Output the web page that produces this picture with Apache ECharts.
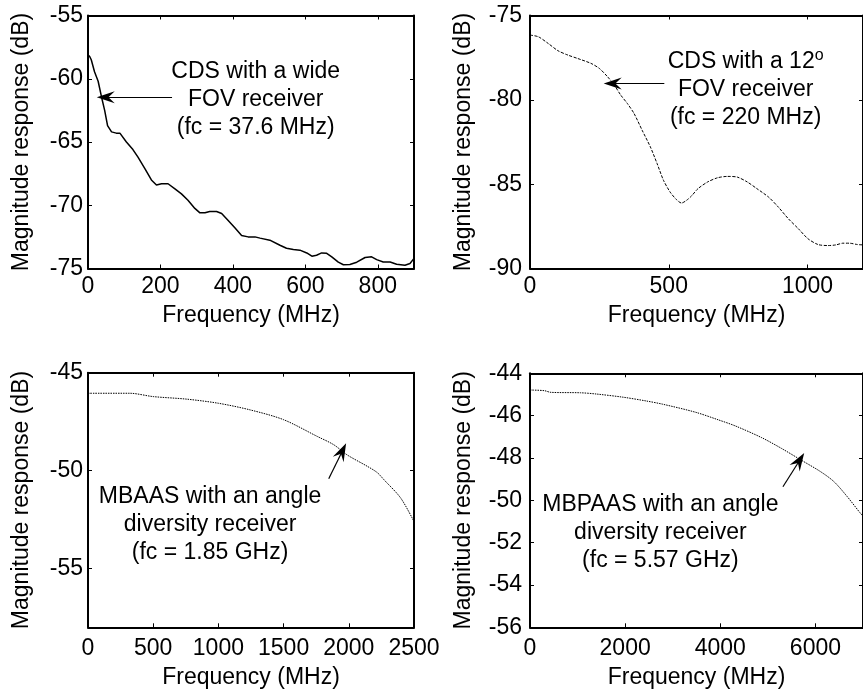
<!DOCTYPE html>
<html>
<head>
<meta charset="utf-8">
<script src="https://cdn.jsdelivr.net/npm/echarts@6/dist/echarts.min.js"></script>
<style>
  html, body { margin: 0; padding: 0; background: #fff; }
  #chart { width: 863px; height: 695px; }
</style>
</head>
<body>
<div id="chart"></div>
<script>
// Panel (a): CDS with a wide FOV receiver
const cdsWideFreq = [0,5,9,18,28,37,46,54,65,78,88,106,124,138,157,175,189,203,221,240,258,276,295,309,323,336,355,369,387,406,424,442,461,475,502,530,548,567,585,604,618,631,645,659,673,691,705,723,742,765,783,797,815,834,852,875,889,900];
const cdsWideDb = [-58.1,-58.26,-58.5,-59.45,-60.2,-61.4,-62.5,-63.7,-64.2,-64.3,-64.3,-65.0,-65.6,-66.2,-67.1,-68.0,-68.4,-68.3,-68.3,-68.7,-69.1,-69.6,-70.25,-70.6,-70.6,-70.5,-70.5,-70.65,-71.2,-71.8,-72.4,-72.5,-72.5,-72.6,-72.76,-73.16,-73.4,-73.5,-73.55,-73.77,-74.03,-73.95,-73.77,-73.8,-74.08,-74.5,-74.7,-74.68,-74.5,-74.13,-74.08,-74.3,-74.48,-74.48,-74.66,-74.74,-74.6,-74.2];

// Panel (b): CDS with a 12 degree FOV receiver
const cds12Freq = [0,30,65,101,137,172,220,250,280,304,327,351,375,404,434,458,481,505,528,546,564,582,605,640,676,711,747,783,818,860,895,931,967,1002,1038,1074,1103,1127,1151,1180,1200];
const cds12Db = [-76.16,-76.26,-76.65,-77.09,-77.35,-77.55,-77.84,-78.14,-78.64,-79.13,-79.72,-80.22,-80.81,-81.8,-82.8,-83.78,-84.77,-85.47,-85.92,-86.12,-85.96,-85.7,-85.27,-84.87,-84.62,-84.54,-84.58,-84.87,-85.27,-85.77,-86.36,-87.05,-87.64,-88.24,-88.58,-88.64,-88.6,-88.5,-88.5,-88.58,-88.6];

// Panel (c): MBAAS with an angle diversity receiver
const mbaasFreq = [0,320,500,757,1000,1244,1500,1757,1885,1988,2142,2218,2269,2398,2500];
const mbaasDb = [-46.05,-46.05,-46.22,-46.35,-46.56,-46.9,-47.4,-48.25,-48.68,-49.2,-49.78,-50.1,-50.46,-51.4,-52.6];

// Panel (d): MBPAAS with an angle diversity receiver
const mbpaasFreq = [0,300,440,1060,1400,1960,2450,2790,3480,3960,4320,4870,5280,5700,6110,6390,6670,6920,7000];
const mbpaasDb = [-44.79,-44.82,-44.9,-44.92,-44.98,-45.13,-45.31,-45.46,-45.84,-46.2,-46.49,-47.04,-47.54,-48.1,-48.65,-49.12,-49.83,-50.54,-50.75];

// Axis ranges and tick values
const xRanges = [[0, 900], [0, 1200], [0, 2500], [0, 7000]];
const yRanges = [[-75, -55], [-90, -75], [-58, -45], [-56, -44]];
const xTicks = [[0,200,400,600,800], [0,500,1000], [0,500,1000,1500,2000,2500], [0,2000,4000,6000]];
const yTicks = [[-75,-70,-65,-60,-55], [-90,-85,-80,-75], [-55,-50,-45], [-56,-54,-52,-50,-48,-46,-44]];

// Annotation texts, their anchor points and arrow (tail -> head) in data units
const noteTexts = [
  ['CDS with a wide', 'FOV receiver', '(fc = 37.6 MHz)'],
  ['CDS with a 12{sup|o}', 'FOV receiver', '(fc = 220 MHz)'],
  ['MBAAS with an angle', 'diversity receiver', '(fc = 1.85 GHz)'],
  ['MBPAAS with an angle', 'diversity receiver', '(fc = 5.57 GHz)']
];
const noteAnchors = [[463, -61.63], [777, -79.39], [936, -52.74], [2741, -51.53]];
const arrowTails = [[232, -61.47], [484, -79.03], [1846, -50.42], [5317, -49.36]];
const arrowHeads = [[49, -61.47], [298, -79.03], [1949, -49.02], [5663, -48.13]];

const FONT = '"Liberation Sans", Arial, Helvetica, sans-serif';
const FS = 23;

const grids = [
  { left: 88, top: 15.5, width: 326, height: 253 },
  { left: 530, top: 15.5, width: 336, height: 253 },
  { left: 88, top: 372.7, width: 326, height: 254.6 },
  { left: 530, top: 373.3, width: 336, height: 254 }
];
const yLabelMargin = [5, 8, 5, 8];
const xLabelMargin = [7, 7, 10, 10];
const xNameGap = [36, 36, 39, 39];

const boxLine = { show: true, onZero: false, lineStyle: { color: '#000', width: 2 } };
const textBase = { fontFamily: FONT, fontSize: FS, color: '#000' };
const plainNumber = (v) => String(v);

const xAxes = [], yAxes = [], series = [];
const seriesData = [
  [cdsWideFreq, cdsWideDb, 'solid', false],
  [cds12Freq, cds12Db, [3, 1.5], 0.25],
  [mbaasFreq, mbaasDb, [1.5, 1], 0.3],
  [mbpaasFreq, mbpaasDb, [1.5, 1], 0.3]
];

for (let i = 0; i < 4; i++) {
  const common = { type: 'value', gridIndex: i, splitLine: { show: false }, axisLine: boxLine };
  const tick = (vals) => ({ inside: true, length: 4, customValues: vals, lineStyle: { color: '#000', width: 1 } });
  // bottom axis with labels
  xAxes.push(Object.assign({}, common, {
    position: 'bottom', min: xRanges[i][0], max: xRanges[i][1],
    name: 'Frequency (MHz)', nameLocation: 'middle', nameGap: xNameGap[i],
    nameTextStyle: textBase,
    axisTick: tick(xTicks[i]),
    axisLabel: Object.assign({ margin: xLabelMargin[i], customValues: xTicks[i], formatter: plainNumber }, textBase)
  }));
  // top axis: box edge with inner ticks
  xAxes.push(Object.assign({}, common, {
    position: 'top', min: xRanges[i][0], max: xRanges[i][1],
    axisTick: tick(xTicks[i]),
    axisLabel: { show: false }
  }));
  // left axis with labels
  yAxes.push(Object.assign({}, common, {
    position: 'left', min: yRanges[i][0], max: yRanges[i][1],
    name: 'Magnitude response (dB)', nameLocation: 'middle', nameGap: 55,
    nameTextStyle: textBase,
    axisTick: tick(yTicks[i]),
    axisLabel: Object.assign({ margin: yLabelMargin[i], customValues: yTicks[i], formatter: plainNumber }, textBase)
  }));
  // right axis: box edge with inner ticks
  yAxes.push(Object.assign({}, common, {
    position: 'right', min: yRanges[i][0], max: yRanges[i][1],
    axisTick: tick(yTicks[i]),
    axisLabel: { show: false }
  }));

  const [fx, fy, dash, smooth] = seriesData[i];
  series.push({
    type: 'line',
    xAxisIndex: i * 2,
    yAxisIndex: i * 2,
    data: fx.map((f, k) => [f, fy[k]]),
    showSymbol: false,
    smooth: smooth,
    clip: true,
    lineStyle: { color: '#000', width: i === 0 ? 1.5 : 1, type: dash },
    silent: true,
    markLine: {
      silent: true,
      symbol: ['none', 'path://M0,0L7,20L0,13L-7,20Z'],
      symbolSize: [12, 18],
      lineStyle: { color: '#000', width: 1.2, type: 'solid' },
      label: { show: false },
      emphasis: { disabled: true },
      data: [[{ coord: arrowTails[i] }, { coord: arrowHeads[i] }]]
    },
    markPoint: {
      silent: true,
      symbol: 'rect',
      symbolSize: 1,
      itemStyle: { color: 'rgba(0,0,0,0)' },
      label: {
        show: true, position: 'inside', align: 'center', verticalAlign: 'middle',
        fontFamily: FONT, fontSize: FS, color: '#000', lineHeight: 28,
        formatter: noteTexts[i].join('\n'),
        rich: {
          sup: { fontFamily: FONT, fontSize: 16, color: '#000', verticalAlign: 'top', lineHeight: 14 }
        }
      },
      data: [{ coord: noteAnchors[i] }]
    }
  });
}

const chart = echarts.init(document.getElementById('chart'), null, { renderer: 'canvas' });
chart.setOption({
  animation: false,
  backgroundColor: '#fff',
  grid: grids,
  xAxis: xAxes,
  yAxis: yAxes,
  series: series
});
</script>
</body>
</html>
